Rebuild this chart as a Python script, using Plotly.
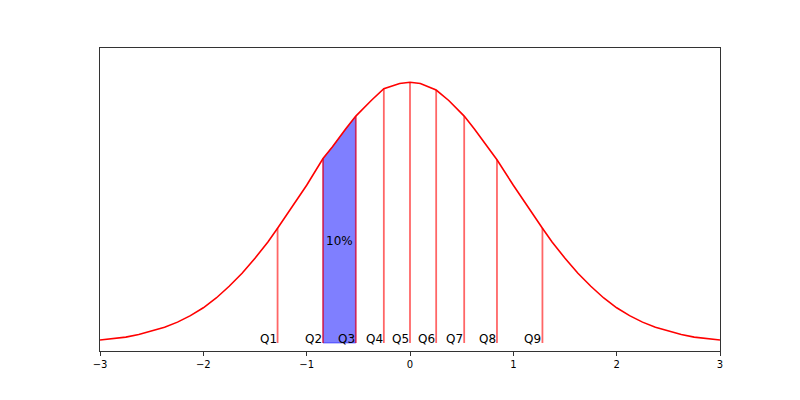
import plotly.graph_objects as go

# curve points
curve_x = [-3.0, -2.875, -2.75, -2.625, -2.5, -2.375, -2.25, -2.125, -2.0, -1.875, -1.75, -1.625, -1.5,
           -1.375, -1.2816, -1.125, -1.0, -0.8416, -0.75, -0.625, -0.5244, -0.375, -0.2533,
           -0.1, 0.0, 0.1, 0.2533, 0.375, 0.5244, 0.625, 0.75, 0.8416, 1.0, 1.125, 1.2816, 1.375, 1.5,
           1.625, 1.75, 1.875, 2.0, 2.125, 2.25, 2.375, 2.5, 2.625, 2.75, 2.875, 3.0]
curve_y = [0.0045, 0.0065, 0.009, 0.013, 0.018, 0.024, 0.032, 0.042, 0.054, 0.069, 0.087, 0.107, 0.130,
           0.155, 0.176, 0.212, 0.242, 0.283, 0.301, 0.328, 0.348, 0.372, 0.390,
           0.398, 0.400, 0.398, 0.388, 0.372, 0.348, 0.328, 0.301, 0.281, 0.242, 0.212, 0.176, 0.155, 0.130,
           0.107, 0.087, 0.069, 0.054, 0.042, 0.032, 0.024, 0.018, 0.013, 0.009, 0.0065, 0.0045]

# decile positions and labels
q_x = [-1.2816, -0.8416, -0.5244, -0.2533, 0.0, 0.2533, 0.5244, 0.8416, 1.2816]
q_y = [0.176, 0.283, 0.348, 0.390, 0.400, 0.388, 0.348, 0.281, 0.176]
q_labels = ["Q1", "Q2", "Q3", "Q4", "Q5", "Q6", "Q7", "Q8", "Q9"]

shade_from, shade_to = q_x[1], q_x[2]
shade_label = "10%"

tick_vals = [-3, -2, -1, 0, 1, 2, 3]
tick_text = ["\u22123", "\u22122", "\u22121", "0", "1", "2", "3"]

fig = go.Figure()

# shaded area between Q2 and Q3
sx = [x for x in curve_x if shade_from <= x <= shade_to]
sy = [y for x, y in zip(curve_x, curve_y) if shade_from <= x <= shade_to]
poly_x = [shade_from] + sx + [shade_to, shade_from]
poly_y = [0] + sy + [0, 0]
fig.add_trace(go.Scatter(x=poly_x, y=poly_y, mode="lines", fill="toself",
                         fillcolor="rgba(0,0,255,0.5)", line=dict(color="rgba(0,0,255,0.5)", width=1),
                         hoverinfo="skip", showlegend=False))

# vertical decile lines
for x, y in zip(q_x, q_y):
    fig.add_trace(go.Scatter(x=[x, x], y=[0, y], mode="lines",
                             line=dict(color="rgba(255,0,0,0.6)", width=1.8),
                             showlegend=False, hoverinfo="skip"))

# curve
fig.add_trace(go.Scatter(x=curve_x, y=curve_y, mode="lines",
                         line=dict(color="red", width=1.6), showlegend=False))

annotations = []
for x, lab in zip(q_x, q_labels):
    annotations.append(dict(x=x, y=0, text=lab, showarrow=False, xanchor="right", yanchor="bottom",
                            xshift=1, yshift=-5, font=dict(family="DejaVu Sans", size=12, color="black")))
annotations.append(dict(x=(shade_from + shade_to) / 2, y=0.156, text=shade_label, showarrow=False,
                        xanchor="center", yanchor="middle",
                        font=dict(family="DejaVu Sans", size=12, color="black")))

fig.update_layout(
    width=800, height=400,
    margin=dict(l=92, r=88, t=40, b=57),
    paper_bgcolor="white", plot_bgcolor="white",
    annotations=annotations,
    xaxis=dict(range=[-3, 3], tickvals=tick_vals, ticktext=tick_text, ticks="outside", ticklen=4,
               tickcolor="#333", showgrid=False, zeroline=False, showline=True, linecolor="#333",
               linewidth=1, mirror=True, tickfont=dict(family="DejaVu Sans", size=10, color="black")),
    yaxis=dict(range=[-0.0123, 0.4525], showticklabels=False, ticks="", showgrid=False, zeroline=False,
               showline=True, linecolor="#333", linewidth=1, mirror=True),
)

fig.write_html("out.html")
